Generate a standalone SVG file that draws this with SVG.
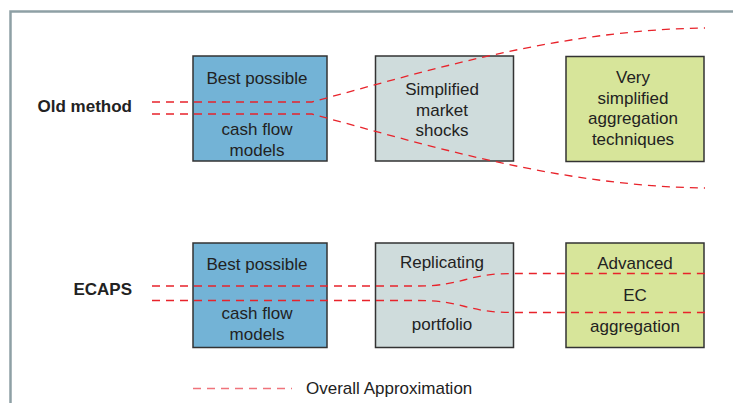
<svg xmlns="http://www.w3.org/2000/svg" width="733" height="403" viewBox="0 0 733 403">
  <style>
    .frame { fill: none; stroke: #8ea0a5; stroke-width: 2.5; }
    .box { stroke: #333333; stroke-width: 1.5; }
    .blue { fill: #73b3d6; }
    .grey { fill: #cfdcdc; }
    .green { fill: #d7e59a; }
    text { font-family: "Liberation Sans", Arial, sans-serif; font-size: 17px; fill: #222222; text-anchor: middle; }
    .label { font-weight: bold; text-anchor: end; }
    .legend-text { text-anchor: start; }
    .dash { fill: none; stroke: #e8232b; stroke-width: 1.3; stroke-dasharray: 8 6; }
    .dash-legend { fill: none; stroke: #f0737b; stroke-width: 1.3; stroke-dasharray: 8 6; }
  </style>

  <rect width="733" height="403" fill="#ffffff"/>
  <!-- outer panel frame, open to the right and bottom -->
  <path class="frame" d="M 10.5 410 L 10.5 11.5 L 740 11.5"/>

  <!-- row labels -->
  <text class="label" x="132" y="111.5">Old method</text>
  <text class="label" x="132" y="295">ECAPS</text>

  <!-- old method row -->
  <g id="old-cashflow">
    <rect class="box blue" x="193" y="56" width="134" height="105"/>
    <text x="257" y="84">Best possible</text>
    <text x="257" y="135">cash flow</text>
    <text x="257" y="155.5">models</text>
  </g>
  <g id="old-shocks">
    <rect class="box grey" x="375.5" y="56" width="138" height="105"/>
    <text x="442" y="95">Simplified</text>
    <text x="442" y="115.5">market</text>
    <text x="442" y="136">shocks</text>
  </g>
  <g id="old-aggregation">
    <rect class="box green" x="566" y="56.5" width="138" height="105"/>
    <text x="633" y="83">Very</text>
    <text x="633" y="103.5">simplified</text>
    <text x="633" y="124">aggregation</text>
    <text x="633" y="144.5">techniques</text>
  </g>

  <!-- ECAPS row -->
  <g id="ecaps-cashflow">
    <rect class="box blue" x="193" y="243" width="134" height="104.5"/>
    <text x="257" y="269.5">Best possible</text>
    <text x="257" y="319">cash flow</text>
    <text x="257" y="340">models</text>
  </g>
  <g id="ecaps-replicating">
    <rect class="box grey" x="375.5" y="243" width="138" height="104.5"/>
    <text x="442" y="268">Replicating</text>
    <text x="442" y="330">portfolio</text>
  </g>
  <g id="ecaps-aggregation">
    <rect class="box green" x="566" y="243" width="138" height="104.5"/>
    <text x="635" y="269">Advanced</text>
    <text x="635" y="301">EC</text>
    <text x="635" y="332">aggregation</text>
  </g>

  <!-- approximation envelopes -->
  <g id="connectors">
    <path class="dash" d="M 152 102 L 312 102 C 430 70 560 30 705 28"/>
    <path class="dash" d="M 152 114 L 312 114 C 430 146 560 186 705 188"/>
    <path class="dash" d="M 152 286 L 417 286 C 465 286 465 273.5 513 273.5 L 705 273.5"/>
    <path class="dash" d="M 152 300.5 L 417 300.5 C 465 300.5 465 312.5 513 312.5 L 705 312.5"/>
  </g>

  <!-- legend -->
  <g id="legend">
    <line class="dash-legend" x1="193" y1="388.5" x2="292" y2="388.5"/>
    <text class="legend-text" x="306" y="393.5">Overall Approximation</text>
  </g>
</svg>
